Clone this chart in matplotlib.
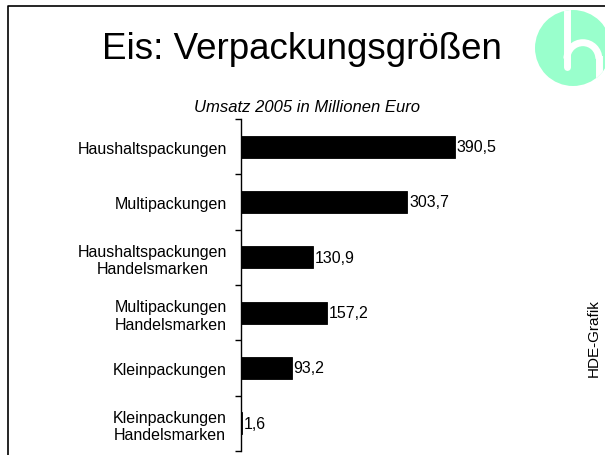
import matplotlib
matplotlib.use("Agg")
from matplotlib import pyplot as plt
from matplotlib.patches import Circle, Arc
from matplotlib.lines import Line2D
import numpy as np

# daten
kategorien = ["Haushaltspackungen", "Multipackungen", "Haushaltspackungen\nHandelsmarken",
              "Multipackungen\nHandelsmarken", "Kleinpackungen", "Kleinpackungen\nHandelsmarken"]
umsatz = [390.5, 303.7, 130.9, 157.2, 93.2, 1.6]
werte_text = ["390,5", "303,7", "130,9", "157,2", "93,2", "1,6"]

plt.rcParams['font.family'] = ['Liberation Sans', 'DejaVu Sans']

W, H = 605, 456
fig = plt.figure(figsize=(W / 100, H / 100), dpi=100)

# rahmen oben und links
fig.add_artist(Line2D([8 / W, 8 / W, 1], [0, 1 - 7 / H, 1 - 7 / H], color="black", lw=1.2,
                      transform=fig.transFigure))

fig.text(302 / W, 1 - 59 / H, "Eis: Verpackungsgrößen", fontsize=26.5, ha="center", va="baseline")
fig.text(307 / W, 1 - 112 / H, "Umsatz 2005 in Millionen Euro", fontsize=12, style="italic",
         ha="center", va="baseline")
fig.text(594 / W, 1 - 338 / H, "HDE-Grafik", fontsize=11, rotation=90, ha="center", va="center")

ax = fig.add_axes([241 / W, 1 - 452 / H, 274 / W, 332 / H])
y = np.arange(len(kategorien))
ax.barh(y, umsatz, height=0.4, color="black", edgecolor="black", linewidth=0.6)
for yi, v, t in zip(y, umsatz, werte_text):
    ax.text(v + 3, yi, t, va="center", ha="left", fontsize=11.5)
ax.set_xlim(0, 500)
ax.set_ylim(len(kategorien) - 0.5, -0.5)
ax.set_yticks(y)
ax.set_yticklabels(kategorien, fontsize=11.5, multialignment="center")
ax.set_yticks(np.arange(len(kategorien) + 1) - 0.5, minor=True)
ax.tick_params(axis="y", which="major", length=0, pad=10)
ax.tick_params(axis="y", which="minor", length=4, width=1, direction="out")
ax.set_xticks([])
for s in ["top", "right", "bottom"]:
    ax.spines[s].set_visible(False)
ax.spines["left"].set_linewidth(1)

# logo
lax = fig.add_axes([535 / W, 1 - 87 / H, 76 / W, 76 / H])
lax.set_xlim(-1, 1)
lax.set_ylim(-1, 1)
lax.set_aspect("equal")
lax.axis("off")
kreis = Circle((0, 0), 1, color="#99ffcc", lw=0)
lax.add_patch(kreis)
strich = Line2D([-0.16, -0.16], [1.2, -0.5], color="white", lw=5, solid_capstyle="round")
bogen = Arc((0.26, -0.28), 0.84, 0.84, theta1=0, theta2=180, color="white", lw=5)
bein = Line2D([0.68, 0.68], [-0.28, -1.2], color="white", lw=5)
for a in (strich, bogen, bein):
    lax.add_artist(a)
    a.set_clip_path(kreis)

fig.savefig("out.png", dpi=100)
